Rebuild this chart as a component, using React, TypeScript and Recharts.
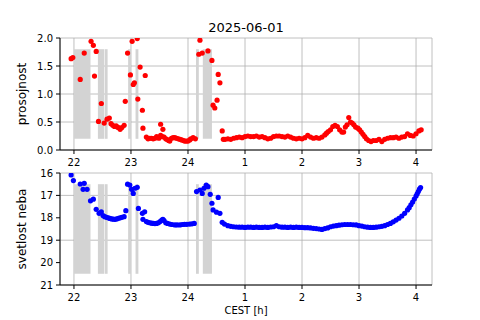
import { ScatterChart, Scatter, XAxis, YAxis, CartesianGrid, ReferenceArea } from 'recharts'

// hours after 22h CEST run on past 24 (25 = 1h, 26 = 2h ...)
const hourDomain = [21.755, 28.28]
const hourTicks = [22, 23, 24, 25, 26, 27, 28]
const prosojnostTicks = [0, 0.5, 1, 1.5, 2]
const svetlostTicks = [16, 17, 18, 19, 20, 21]

// grey bands (start, end hour)
const gaps: [number, number][] = [
  [22.0, 22.29],
  [22.42, 22.53],
  [22.54, 22.59],
  [22.95, 23.0],
  [23.08, 23.13],
  [24.14, 24.19],
  [24.26, 24.42],
]
const gapBandTop = [0.2, 1.8]
const gapBandBottom = [16.5, 20.5]

const prosojnost: [number, number][] = [
  [21.95, 1.63], [21.98, 1.65], [22.11, 1.26], [22.18, 1.73], [22.3, 1.94], [22.34, 1.87], [22.36, 1.32], [22.39, 1.76],
  [22.43, 0.51], [22.48, 0.83], [22.53, 0.48], [22.58, 0.55], [22.62, 0.57], [22.65, 0.47], [22.68, 0.44], [22.71, 0.42],
  [22.74, 0.43], [22.76, 0.41], [22.78, 0.4], [22.81, 0.37], [22.84, 0.4], [22.88, 0.44], [22.9, 0.87], [22.94, 1.73],
  [22.99, 1.34], [23.02, 1.94], [23.04, 1.17], [23.06, 1.2], [23.11, 1.99], [23.12, 0.91], [23.16, 1.48], [23.2, 0.71],
  [23.21, 0.39], [23.25, 1.33],
  [23.27, 0.23], [23.3, 0.2], [23.33, 0.21], [23.36, 0.21], [23.39, 0.2], [23.42, 0.21], [23.45, 0.24], [23.49, 0.21],
  [23.52, 0.46], [23.52, 0.26], [23.55, 0.24], [23.56, 0.37], [23.58, 0.23], [23.61, 0.2], [23.63, 0.19], [23.66, 0.17],
  [23.68, 0.16], [23.71, 0.21], [23.74, 0.22], [23.77, 0.22], [23.8, 0.21], [23.83, 0.2], [23.86, 0.19], [23.89, 0.18],
  [23.92, 0.17], [23.94, 0.16], [23.97, 0.16], [24.0, 0.16], [24.03, 0.18], [24.05, 0.2], [24.09, 0.22], [24.13, 0.2],
  [24.19, 1.71], [24.21, 1.96], [24.25, 1.73], [24.35, 1.77], [24.42, 1.6], [24.44, 0.8], [24.47, 0.75], [24.51, 0.89],
  [24.53, 1.35], [24.56, 1.2], [24.6, 0.34], [24.62, 0.19],
  [24.65, 0.19], [24.7, 0.2], [24.75, 0.19], [24.8, 0.21], [24.85, 0.22], [24.9, 0.23], [24.95, 0.22], [25.0, 0.24],
  [25.05, 0.25], [25.1, 0.24], [25.15, 0.24], [25.2, 0.25], [25.25, 0.23], [25.3, 0.24], [25.35, 0.22], [25.4, 0.2],
  [25.45, 0.21], [25.5, 0.24], [25.55, 0.25], [25.6, 0.25], [25.65, 0.24], [25.7, 0.23], [25.75, 0.25], [25.8, 0.23],
  [25.85, 0.21], [25.9, 0.2], [25.95, 0.21], [26.0, 0.2], [26.05, 0.22], [26.1, 0.26], [26.15, 0.23], [26.2, 0.21],
  [26.25, 0.22], [26.3, 0.21], [26.35, 0.23], [26.4, 0.27], [26.43, 0.3], [26.46, 0.33], [26.5, 0.36], [26.54, 0.42],
  [26.58, 0.44], [26.62, 0.42], [26.66, 0.36], [26.7, 0.32], [26.73, 0.32], [26.76, 0.41], [26.79, 0.45], [26.82, 0.58],
  [26.85, 0.5], [26.88, 0.48], [26.91, 0.45], [26.94, 0.41], [26.98, 0.39], [27.01, 0.36], [27.04, 0.32], [27.07, 0.28],
  [27.1, 0.24], [27.13, 0.2], [27.17, 0.17], [27.21, 0.15], [27.25, 0.17], [27.3, 0.17], [27.35, 0.19], [27.4, 0.15],
  [27.45, 0.19], [27.5, 0.21], [27.55, 0.22], [27.6, 0.22], [27.65, 0.23], [27.7, 0.21], [27.75, 0.23], [27.8, 0.24],
  [27.85, 0.29], [27.9, 0.26], [27.95, 0.25], [28.0, 0.29], [28.05, 0.34], [28.09, 0.36],
]

const svetlost: [number, number][] = [
  [21.95, 16.09], [21.99, 16.34], [22.11, 16.49], [22.16, 16.73], [22.18, 16.46], [22.23, 16.73], [22.29, 17.24], [22.34, 17.17],
  [22.39, 17.62], [22.44, 17.8], [22.48, 17.73], [22.51, 17.9], [22.54, 17.95], [22.57, 17.98], [22.6, 18.0], [22.63, 18.03],
  [22.66, 18.05], [22.69, 18.06], [22.72, 18.07], [22.75, 18.05], [22.78, 18.02], [22.81, 18.0], [22.84, 17.98], [22.88, 17.95],
  [22.91, 17.68], [22.94, 16.5], [22.98, 16.54], [23.01, 16.73], [23.04, 16.91], [23.07, 16.68], [23.11, 16.64], [23.13, 17.58],
  [23.2, 17.8], [23.21, 18.07], [23.24, 17.73],
  [23.27, 18.17], [23.3, 18.2], [23.33, 18.22], [23.36, 18.24], [23.39, 18.25], [23.42, 18.26], [23.45, 18.25], [23.48, 18.22],
  [23.51, 18.17], [23.54, 18.1], [23.56, 18.07], [23.58, 18.12], [23.61, 18.22], [23.64, 18.25], [23.68, 18.28], [23.72, 18.3],
  [23.77, 18.32], [23.81, 18.32], [23.86, 18.32], [23.9, 18.3], [23.94, 18.29], [23.98, 18.29], [24.03, 18.28], [24.07, 18.27],
  [24.11, 18.25],
  [24.15, 16.83], [24.21, 16.76], [24.25, 16.91], [24.28, 16.68], [24.32, 16.54], [24.35, 16.61], [24.39, 16.95], [24.42, 17.35],
  [24.44, 17.65], [24.5, 17.75], [24.53, 17.09], [24.56, 17.8], [24.6, 18.2], [24.64, 18.28],
  [24.7, 18.35], [24.75, 18.38], [24.8, 18.4], [24.85, 18.41], [24.9, 18.42], [24.95, 18.42], [25.0, 18.43], [25.05, 18.42],
  [25.1, 18.42], [25.15, 18.43], [25.2, 18.42], [25.25, 18.43], [25.3, 18.43], [25.35, 18.42], [25.4, 18.43], [25.45, 18.41],
  [25.5, 18.4], [25.55, 18.35], [25.6, 18.4], [25.65, 18.42], [25.7, 18.42], [25.75, 18.43], [25.8, 18.42], [25.85, 18.43],
  [25.9, 18.42], [25.95, 18.43], [26.0, 18.43], [26.05, 18.44], [26.1, 18.44], [26.15, 18.45], [26.2, 18.47], [26.25, 18.48],
  [26.3, 18.5], [26.35, 18.52], [26.4, 18.48], [26.45, 18.45], [26.5, 18.4], [26.55, 18.37], [26.6, 18.35], [26.65, 18.33],
  [26.7, 18.31], [26.75, 18.3], [26.8, 18.3], [26.85, 18.3], [26.9, 18.31], [26.95, 18.32], [27.0, 18.35], [27.05, 18.37],
  [27.1, 18.4], [27.15, 18.42], [27.2, 18.43], [27.25, 18.43], [27.3, 18.42], [27.35, 18.4], [27.4, 18.38], [27.45, 18.35],
  [27.5, 18.3], [27.55, 18.25], [27.6, 18.18], [27.65, 18.1], [27.7, 18.02], [27.75, 17.92], [27.8, 17.8], [27.85, 17.65],
  [27.88, 17.55], [27.91, 17.42], [27.94, 17.3], [27.97, 17.16], [28.0, 17.03], [28.02, 16.93], [28.04, 16.83], [28.06, 16.72],
  [28.08, 16.65],
]

const FONT = 'DejaVu Sans, sans-serif'
const tickStyle = { fill: '#000', fontSize: 10, fontFamily: FONT }
const hourLabel = (h: number) => String(h > 24 ? h - 24 : h)
const dot = (color: string) => (p: any) => <circle cx={p.cx} cy={p.cy} r={2.6} fill={color} />

const toPoints = (rows: [number, number][]) => rows.map(([t, v]) => ({ t, v }))

interface PanelProps {
  data: [number, number][]
  color: string
  height: number
  xHeight: number
  yDomain: number[]
  yTicks: number[]
  yLabel: string
  band: number[]
  reversed?: boolean
  xLabel?: string
  fmt?: (v: number) => string
}

function Panel({ data, color, height, xHeight, yDomain, yTicks, yLabel, band, reversed, xLabel, fmt }: PanelProps) {
  return (
    <ScatterChart width={480} height={height} margin={{ top: 38, right: 48, bottom: 0, left: 10 }}>
      <CartesianGrid stroke="#b0b0b0" strokeWidth={0.8} />
      <XAxis
        dataKey="t"
        type="number"
        domain={hourDomain}
        ticks={hourTicks}
        allowDataOverflow
        interval={0}
        height={xHeight}
        stroke="#000"
        tickSize={4}
        tickMargin={5}
        tick={tickStyle}
        tickFormatter={hourLabel}
        label={xLabel ? { value: xLabel, position: 'insideBottom', offset: 6, fontSize: 10, fill: '#000', fontFamily: FONT } : undefined}
      />
      <XAxis xAxisId="top" orientation="top" type="number" domain={hourDomain} allowDataOverflow height={0} stroke="#000" tick={false} tickLine={false} />
      <YAxis
        dataKey="v"
        type="number"
        domain={yDomain}
        ticks={yTicks}
        allowDataOverflow
        reversed={reversed}
        width={50}
        stroke="#000"
        tickSize={4}
        tickMargin={3}
        tick={tickStyle}
        tickFormatter={fmt}
        label={{ value: yLabel, angle: -90, position: 'insideLeft', offset: 12, fontSize: 12, fill: '#000', fontFamily: FONT, style: { textAnchor: 'middle' } }}
      />
      <YAxis yAxisId="right" orientation="right" type="number" domain={yDomain} allowDataOverflow width={0} stroke="#000" tick={false} tickLine={false} />
      {gaps.map(([a, b], i) => (
        <ReferenceArea key={i} x1={a} x2={b} y1={band[0]} y2={band[1]} fill="#d3d3d3" fillOpacity={1} stroke="none" />
      ))}
      <Scatter data={toPoints(data)} fill={color} shape={dot(color)} isAnimationActive={false} />
    </ScatterChart>
  )
}

export default function App() {
  return (
    <div style={{ position: 'absolute', left: 0, top: 0, width: 480, height: 320, background: '#fff', fontFamily: FONT }}>
      <div style={{ position: 'absolute', left: 60, top: 21, width: 372, textAlign: 'center', fontSize: 13, lineHeight: 1, color: '#000' }}>
        2025-06-01
      </div>
      <div style={{ position: 'absolute', left: 0, top: 0 }}>
        <Panel
          data={prosojnost}
          color="#ff0000"
          height={172}
          xHeight={22}
          yDomain={[0, 2]}
          yTicks={prosojnostTicks}
          yLabel="prosojnost"
          band={gapBandTop}
          fmt={(v) => v.toFixed(1)}
        />
      </div>
      <div style={{ position: 'absolute', left: 0, top: 135 }}>
        <Panel
          data={svetlost}
          color="#0000ff"
          height={185}
          xHeight={35}
          yDomain={[16, 21]}
          yTicks={svetlostTicks}
          yLabel="svetlost neba"
          band={gapBandBottom}
          reversed
          xLabel="CEST [h]"
        />
      </div>
    </div>
  )
}
